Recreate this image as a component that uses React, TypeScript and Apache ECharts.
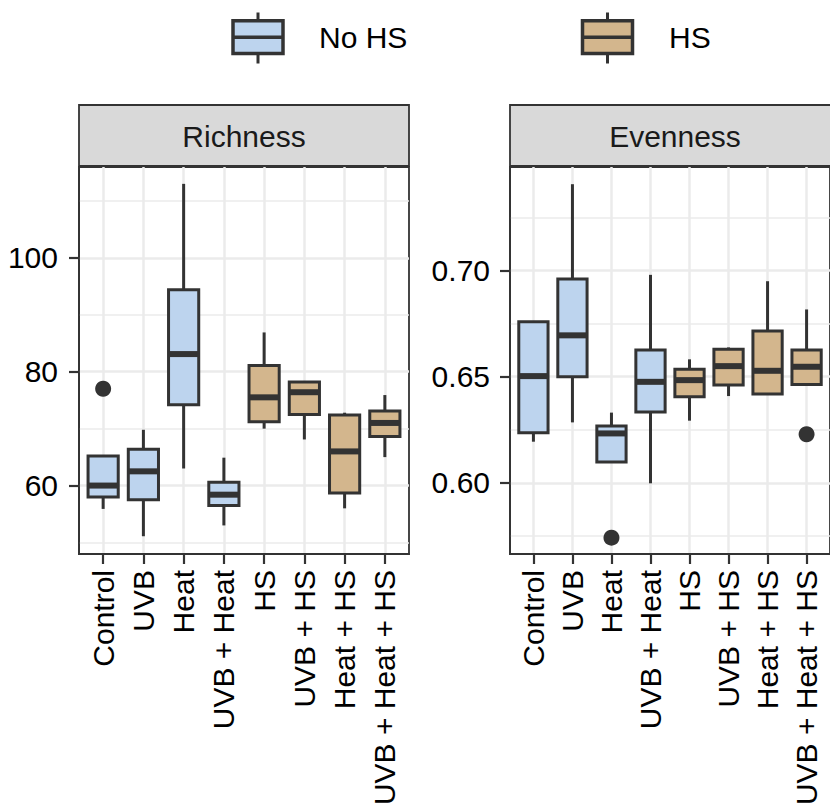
import React, { useEffect, useRef } from "react";
import * as echarts from "echarts";

const categories = ["Control", "UVB", "Heat", "UVB + Heat", "HS", "UVB + HS", "Heat + HS", "UVB + Heat + HS"];
const treatmentGroup = ["No HS", "No HS", "No HS", "No HS", "HS", "HS", "HS", "HS"];
const groupNames = ["No HS", "HS"];

// [min, Q1, median, Q3, max]
const richnessBoxes = [
  [55.9, 58.0, 60.0, 65.2, 65.2],
  [51.1, 57.5, 62.5, 66.4, 69.8],
  [63.0, 74.2, 83.1, 94.4, 113.0],
  [53.0, 56.5, 58.4, 60.6, 64.9],
  [70.0, 71.2, 75.5, 81.1, 86.9],
  [68.1, 72.5, 76.4, 78.2, 78.2],
  [56.0, 58.7, 66.0, 72.4, 72.8],
  [65.0, 68.6, 71.0, 73.1, 75.9],
];
const richnessOutliers = [[0, 77.0]];
const richnessTicks = [60, 80, 100];
const richnessMinor = [50, 70, 90, 110];

const evennessBoxes = [
  [0.6194, 0.6236, 0.6503, 0.6759, 0.6759],
  [0.6285, 0.6500, 0.6695, 0.6961, 0.7407],
  [0.6098, 0.6098, 0.6233, 0.6268, 0.6331],
  [0.5998, 0.6334, 0.6476, 0.6626, 0.6980],
  [0.6293, 0.6406, 0.6484, 0.6535, 0.6582],
  [0.6409, 0.6461, 0.6550, 0.6629, 0.6638],
  [0.6419, 0.6419, 0.6528, 0.6715, 0.6950],
  [0.6464, 0.6464, 0.6547, 0.6626, 0.6817],
];
const evennessOutliers = [[2, 0.5742], [7, 0.6229]];
const evennessTicks = [0.6, 0.65, 0.7];
const evennessMinor = [0.575, 0.625, 0.675, 0.725];

const panelTitles = ["Richness", "Evenness"];

const FILL: Record<string, string> = { "No HS": "#BDD4EE", HS: "#D3B68D" };
const DARK = "#333333";
const GRID = "#EBEBEB";
const FONT = "'Liberation Sans', Arial, Helvetica, sans-serif";
const FS = 30;
const catIdx = categories.map((_, i) => i);

function boxSeries(boxes: number[][], gi: number) {
  return {
    type: "custom",
    xAxisIndex: gi,
    yAxisIndex: gi * 2,
    encode: { x: 0, y: [1, 2, 3, 4, 5] },
    data: boxes.map((b, i) => [i, ...b]),
    renderItem: (params: any, api: any) => {
      const i = api.value(0);
      const pMin = api.coord([i, api.value(1)]);
      const pQ1 = api.coord([i, api.value(2)]);
      const pMed = api.coord([i, api.value(3)]);
      const pQ3 = api.coord([i, api.value(4)]);
      const pMax = api.coord([i, api.value(5)]);
      const bw = api.size([1, 0])[0] * 0.75;
      const cx = pMed[0];
      const fill = FILL[treatmentGroup[params.dataIndex]];
      const ls = { stroke: DARK, lineWidth: 3 };
      return {
        type: "group",
        children: [
          { type: "line", shape: { x1: cx, y1: pMax[1], x2: cx, y2: pQ3[1] }, style: ls },
          { type: "line", shape: { x1: cx, y1: pQ1[1], x2: cx, y2: pMin[1] }, style: ls },
          { type: "rect", shape: { x: cx - bw / 2, y: pQ3[1], width: bw, height: pQ1[1] - pQ3[1] }, style: { fill, stroke: DARK, lineWidth: 3 } },
          { type: "line", shape: { x1: cx - bw / 2, y1: pMed[1], x2: cx + bw / 2, y2: pMed[1] }, style: { stroke: DARK, lineWidth: 6 } },
        ],
      };
    },
  };
}

function legendItem(x: number, label: string, textX: number) {
  const fill = FILL[label];
  return {
    type: "group",
    children: [
      { type: "line", shape: { x1: x + 25, y1: 12.5, x2: x + 25, y2: 20.8 }, style: { stroke: DARK, lineWidth: 3 } },
      { type: "line", shape: { x1: x + 25, y1: 53.5, x2: x + 25, y2: 63.5 }, style: { stroke: DARK, lineWidth: 3 } },
      { type: "rect", shape: { x, y: 20.8, width: 50, height: 32.7 }, style: { fill, stroke: DARK, lineWidth: 3.5 } },
      { type: "line", shape: { x1: x, y1: 37.2, x2: x + 50, y2: 37.2 }, style: { stroke: DARK, lineWidth: 3.5 } },
      { type: "text", x: textX, y: 37.5, style: { text: label, font: `${FS}px ${FONT}`, fill: "#000", verticalAlign: "middle", align: "left" } },
    ],
  };
}

export default function App() {
  const ref = useRef<HTMLDivElement>(null);
  useEffect(() => {
    if (!ref.current) return;
    const chart = echarts.init(ref.current, undefined, { renderer: "svg" });
    const panels = [
      { left: 79, width: 330, min: 47.98, max: 115.96, ticks: richnessTicks, minor: richnessMinor, fmt: (v: number) => String(v), margin: 21 },
      { left: 510, width: 331, min: 0.5665, max: 0.7488, ticks: evennessTicks, minor: evennessMinor, fmt: (v: number) => v.toFixed(2), margin: 20 },
    ];
    const grid = panels.map((p) => ({
      left: p.left, top: 167, width: p.width, height: 387,
      show: true, borderColor: DARK, borderWidth: 1.8, backgroundColor: "transparent",
    }));
    const xAxis = panels.map((p, gi) => ({
      type: "value", gridIndex: gi, min: -0.6, max: 7.6, position: "bottom",
      axisLine: { show: true, onZero: false, lineStyle: { color: DARK, width: 1.8 } },
      axisTick: { show: true, length: 10, customValues: catIdx, lineStyle: { color: DARK, width: 2.2 } },
      axisLabel: {
        customValues: catIdx, rotate: 90, margin: 16, fontSize: FS, fontFamily: FONT, color: "#000",
        formatter: (v: number) => categories[Math.round(v)],
      },
      splitLine: { show: true, lineStyle: { color: GRID, width: 2.5 } },
    }));
    const yAxis: any[] = [];
    panels.forEach((p, gi) => {
      yAxis.push({
        type: "value", gridIndex: gi, min: p.min, max: p.max, position: "left",
        axisLine: { show: true, onZero: false, lineStyle: { color: DARK, width: 1.8 } },
        axisTick: { show: true, length: 10, customValues: p.ticks, lineStyle: { color: DARK, width: 2.2 } },
        axisLabel: { customValues: p.ticks, margin: p.margin, fontSize: FS, fontFamily: FONT, color: "#000", formatter: p.fmt },
        splitLine: { show: true, lineStyle: { color: GRID, width: 2.5 } },
      });
      yAxis.push({
        type: "value", gridIndex: gi, min: p.min, max: p.max, position: "left",
        axisLine: { show: false, onZero: false },
        axisTick: { show: false, customValues: p.minor },
        axisLabel: { show: false, customValues: p.minor },
        splitLine: { show: true, lineStyle: { color: GRID, width: 1.5 } },
      });
    });
    const series: any[] = [
      boxSeries(richnessBoxes, 0),
      boxSeries(evennessBoxes, 1),
      { type: "scatter", xAxisIndex: 0, yAxisIndex: 0, data: richnessOutliers, symbol: "circle", symbolSize: 16, itemStyle: { color: DARK, opacity: 1 }, z: 5 },
      { type: "scatter", xAxisIndex: 1, yAxisIndex: 2, data: evennessOutliers, symbol: "circle", symbolSize: 16, itemStyle: { color: DARK, opacity: 1 }, z: 5 },
    ];
    const strips = panels.map((p, gi) => ({
      type: "group",
      children: [
        { type: "rect", shape: { x: p.left, y: 105, width: p.width, height: 61 }, style: { fill: "#D9D9D9", stroke: DARK, lineWidth: 1.8 } },
        { type: "text", x: p.left + 330 / 2, y: 136, style: { text: panelTitles[gi], font: `${FS}px ${FONT}`, fill: "#1A1A1A", align: "center", verticalAlign: "middle" } },
      ],
    }));
    chart.setOption({
      animation: false,
      backgroundColor: "#ffffff",
      grid, xAxis, yAxis, series,
      graphic: [
        ...strips,
        legendItem(233, groupNames[0], 319),
        legendItem(582.5, groupNames[1], 669),
      ],
    });
    return () => chart.dispose();
  }, []);
  return <div ref={ref} style={{ position: "absolute", left: 0, top: 0, width: 830, height: 809 }} />;
}
